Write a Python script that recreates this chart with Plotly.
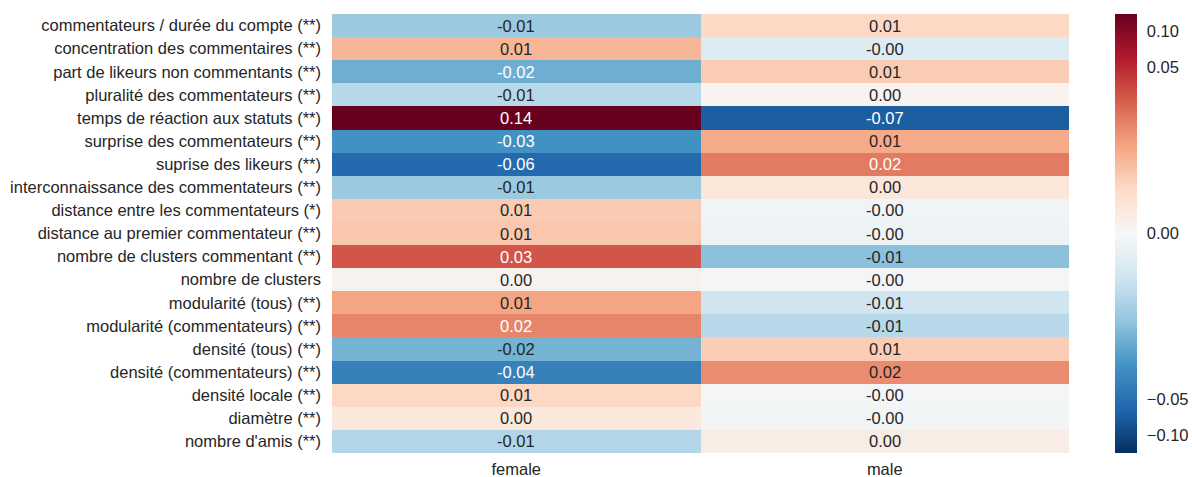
import math
import plotly.graph_objects as go

# ---------------- data ----------------
features = [
    "commentateurs / durée du compte (**)",
    "concentration des commentaires (**)",
    "part de likeurs non commentants (**)",
    "pluralité des commentateurs (**)",
    "temps de réaction aux statuts (**)",
    "surprise des commentateurs (**)",
    "suprise des likeurs (**)",
    "interconnaissance des commentateurs (**)",
    "distance entre les commentateurs (*)",
    "distance au premier commentateur (**)",
    "nombre de clusters commentant (**)",
    "nombre de clusters",
    "modularité (tous) (**)",
    "modularité (commentateurs) (**)",
    "densité (tous) (**)",
    "densité (commentateurs) (**)",
    "densité locale (**)",
    "diamètre (**)",
    "nombre d'amis (**)",
]
groups = ["female", "male"]

female = [-0.010, 0.009, -0.0165, -0.0075, 0.14, -0.027, -0.056, -0.010, 0.0069,
          0.0073, 0.0294, 0.001, 0.0111, 0.0165, -0.0151, -0.036, 0.0055, 0.0029, -0.008]
male = [0.0055, -0.0037, 0.0068, 0.0008, -0.068, 0.0102, 0.0186, 0.0032, -0.001,
        -0.0013, -0.012, -0.0005, -0.0053, -0.0075, 0.0067, 0.0151, -0.0005, -0.0007, 0.0021]

cbar_ticks = [-0.10, -0.05, 0.00, 0.05, 0.10]

# ---------------- colour normalisation (symmetric log, like the reference) ----------------
VMAX = 0.14
LINTHRESH = 0.01
LINSCALE_ADJ = 1.0 / (1.0 - 1.0 / math.e)


def _symlog(v):
    a = abs(v)
    if a <= LINTHRESH:
        out = a * LINSCALE_ADJ
    else:
        out = LINTHRESH * (LINSCALE_ADJ + math.log(a / LINTHRESH))
    return math.copysign(out, v)


def norm(v):
    return _symlog(v) / _symlog(VMAX)


rdbu_r = ["#053061", "#2166ac", "#4393c3", "#92c5de", "#d1e5f0", "#f7f7f7",
          "#fddbc7", "#f4a582", "#d6604d", "#b2182b", "#67001f"]
colorscale = [[i / 10, c] for i, c in enumerate(rdbu_r)]

values = [[f, m] for f, m in zip(female, male)]
z = [[norm(v) for v in row] for row in values]
text = [[f"{v:.2f}" for v in row] for row in values]

FONT = "Liberation Sans, Arial, sans-serif"
DARK = "#262626"
FS = 16.5

fig = go.Figure(
    go.Heatmap(
        z=z,
        x=groups,
        y=features,
        customdata=values,
        colorscale=colorscale,
        zmin=-1,
        zmax=1,
        hovertemplate="%{y}<br>%{x}: %{customdata:.3f}<extra></extra>",
        colorbar=dict(
            thickness=22,
            len=1,
            lenmode="fraction",
            y=0.5,
            yanchor="middle",
            x=1.0624,
            xanchor="left",
            xpad=0,
            ypad=0,
            outlinewidth=0,
            tickvals=[norm(t) for t in cbar_ticks],
            ticktext=[f"{t:.2f}".replace("-", "\u2212") for t in cbar_ticks],
            ticks="outside",
            ticklen=7,
            tickcolor="rgba(0,0,0,0)",
            tickfont=dict(family=FONT, size=FS, color=DARK),
        ),
    )
)

annotations = []
for i, feat in enumerate(features):
    for j, grp in enumerate(groups):
        col = "white" if abs(z[i][j]) > 0.48 else DARK
        annotations.append(
            dict(x=grp, y=feat, text=text[i][j], showarrow=False,
                 font=dict(family=FONT, size=FS, color=col))
        )

fig.update_layout(
    width=1192,
    height=477,
    margin=dict(l=332, r=123, t=14, b=24, autoexpand=False),
    paper_bgcolor="white",
    plot_bgcolor="white",
    annotations=annotations,
    font=dict(family=FONT, size=FS, color=DARK),
)
fig.update_xaxes(showgrid=False, zeroline=False, showline=False, ticks="",
                 ticklabelstandoff=4, tickfont=dict(size=FS, color=DARK))
fig.update_yaxes(showgrid=False, zeroline=False, showline=False, ticks="",
                 autorange="reversed", ticklabelstandoff=10,
                 tickfont=dict(size=FS, color=DARK))

# remove the browser's default body margin so the figure fills the window exactly
fig.write_html(
    "out.html",
    config={"displayModeBar": False},
    post_script="document.body.style.margin='0';document.body.style.overflow='hidden';",
)
